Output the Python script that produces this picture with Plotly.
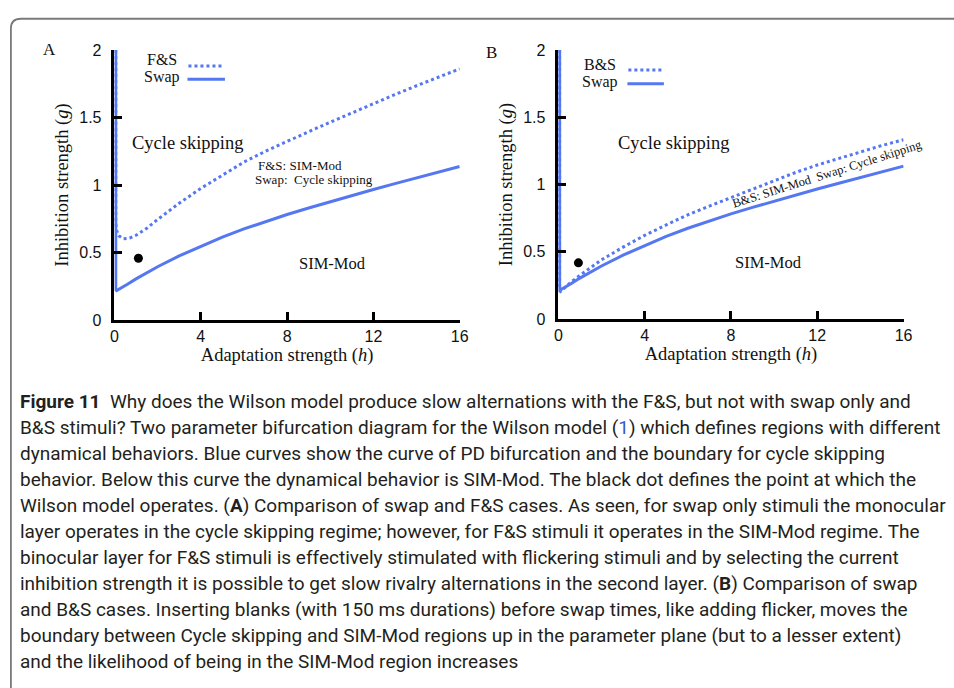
import plotly.graph_objects as go

# ---- data -------------------------------------------------------------
# Swap boundary (same curve in both panels): adaptation h vs inhibition g
h_swap = [0.06, 0.06, 0.1, 0.3, 0.6, 1, 1.5, 2, 3, 4, 5, 6, 7, 8, 9, 10, 11, 12, 13, 14, 15, 16]
g_swap = [2.0, 0.225, 0.218, 0.235, 0.265, 0.305, 0.35, 0.395, 0.475, 0.548, 0.615, 0.675, 0.73, 0.782,
          0.83, 0.877, 0.922, 0.967, 1.01, 1.053, 1.095, 1.137]

# F&S boundary (panel A)
h_fs = [0.06, 0.06, 0.1, 0.2, 0.4, 0.7, 1, 1.5, 2, 3, 4, 5, 6, 7, 8, 9, 10, 11, 12, 13, 14, 15, 16]
g_fs = [2.0, 0.72, 0.665, 0.625, 0.602, 0.607, 0.628, 0.68, 0.745, 0.865, 0.975, 1.075, 1.17, 1.25,
        1.325, 1.395, 1.465, 1.535, 1.60, 1.67, 1.735, 1.80, 1.86]

# B&S boundary (panel B)
h_bs = [0.06, 0.06, 0.1, 0.3, 0.6, 1, 1.5, 2, 3, 4, 5, 6, 7, 8, 9, 10, 11, 12, 13, 14, 15, 16]
g_bs = [2.0, 0.21, 0.205, 0.235, 0.277, 0.325, 0.38, 0.44, 0.535, 0.622, 0.70, 0.775, 0.84, 0.902,
        0.965, 1.03, 1.09, 1.145, 1.195, 1.242, 1.29, 1.333]

# operating points (black dots)
dot_a_h, dot_a_g = [1.11], [0.458]
dot_b_h, dot_b_g = [0.93], [0.418]

x_ticks = [0, 4, 8, 12, 16]
y_ticks = [0, 0.5, 1, 1.5, 2]
y_tick_text = ["0", "0.5", "1", "1.5", "2"]

caption_lines = [
    "<b>Figure 11</b>  Why does the Wilson model produce slow alternations with the F&S, but not with swap only and",
    "B&S stimuli? Two parameter bifurcation diagram for the Wilson model (<span style='color:#2f5fc4'>1</span>) which defines regions with different",
    "dynamical behaviors. Blue curves show the curve of PD bifurcation and the boundary for cycle skipping",
    "behavior. Below this curve the dynamical behavior is SIM-Mod. The black dot defines the point at which the",
    "Wilson model operates. (<b>A</b>) Comparison of swap and F&S cases. As seen, for swap only stimuli the monocular",
    "layer operates in the cycle skipping regime; however, for F&S stimuli it operates in the SIM-Mod regime. The",
    "binocular layer for F&S stimuli is effectively stimulated with flickering stimuli and by selecting the current",
    "inhibition strength it is possible to get slow rivalry alternations in the second layer. (<b>B</b>) Comparison of swap",
    "and B&S cases. Inserting blanks (with 150 ms durations) before swap times, like adding flicker, moves the",
    "boundary between Cycle skipping and SIM-Mod regions up in the parameter plane (but to a lesser extent)",
    "and the likelihood of being in the SIM-Mod region increases",
]

# ---- styling ----------------------------------------------------------
W, H = 954, 688
BLUE = "#5577f0"
SERIF = "Liberation Serif, Times New Roman, serif"
SANS = "Liberation Sans, Arial, sans-serif"
CAPTION_FONT = "Roboto, Lato, Liberation Sans, sans-serif"
INK = "#111111"


def px(x):
    return x / W


def py(y):
    return 1 - y / H


fig = go.Figure()

# panel A
fig.add_trace(go.Scatter(x=h_fs, y=g_fs, mode="lines", line=dict(color=BLUE, width=3, dash="dot"),
                         xaxis="x", yaxis="y", showlegend=False))
fig.add_trace(go.Scatter(x=h_swap, y=g_swap, mode="lines", line=dict(color=BLUE, width=3),
                         xaxis="x", yaxis="y", showlegend=False))
fig.add_trace(go.Scatter(x=dot_a_h, y=dot_a_g, mode="markers", marker=dict(color="black", size=9),
                         xaxis="x", yaxis="y", showlegend=False))

# panel B
fig.add_trace(go.Scatter(x=h_bs, y=g_bs, mode="lines", line=dict(color=BLUE, width=3, dash="dot"),
                         xaxis="x2", yaxis="y2", showlegend=False))
fig.add_trace(go.Scatter(x=h_swap, y=g_swap, mode="lines", line=dict(color=BLUE, width=3),
                         xaxis="x2", yaxis="y2", showlegend=False))
fig.add_trace(go.Scatter(x=dot_b_h, y=dot_b_g, mode="markers", marker=dict(color="black", size=9),
                         xaxis="x2", yaxis="y2", showlegend=False))

axis_common = dict(showline=True, linecolor="black", linewidth=2.5, ticks="inside", ticklen=8,
                   tickwidth=2.5, tickcolor="black", showgrid=False, zeroline=False,
                   tickfont=dict(family=SANS, size=16, color=INK), mirror=False, fixedrange=True)

xt = dict(text="Adaptation strength (<i>h</i>)", font=dict(family=SERIF, size=18.5, color=INK), standoff=2)
yt = dict(text="Inhibition strength (<i>g</i>)", font=dict(family=SERIF, size=18.5, color=INK), standoff=6)

fig.update_layout(
    width=W, height=H, margin=dict(l=0, r=0, t=0, b=0),
    paper_bgcolor="white", plot_bgcolor="white",
    xaxis=dict(domain=[px(112), px(462)], range=[0, 16], tickvals=x_ticks, anchor="y", title=xt, **axis_common),
    yaxis=dict(domain=[py(320), py(43)], range=[0, 2], tickvals=y_ticks, ticktext=y_tick_text, anchor="x",
               title=yt, ticklabelstandoff=7, **axis_common),
    xaxis2=dict(domain=[px(562), px(912)], range=[0, 16], tickvals=x_ticks, anchor="y2", title=xt, **axis_common),
    yaxis2=dict(domain=[py(319), py(43)], range=[0, 2], tickvals=y_ticks, ticktext=y_tick_text, anchor="x2",
                title=yt, ticklabelstandoff=7, **axis_common),
)

ann = []


def text_px(x, y, s, size, family=SERIF, xanchor="center", color=INK):
    ann.append(dict(x=px(x), y=py(y), xref="paper", yref="paper", text=s, showarrow=False,
                    xanchor=xanchor, yanchor="middle", font=dict(family=family, size=size, color=color)))


def text_data(ax, x, y, s, size, angle=0):
    ann.append(dict(x=x, y=y, xref=ax[0], yref=ax[1], text=s, showarrow=False, textangle=angle,
                    xanchor="center", yanchor="middle", font=dict(family=SERIF, size=size, color=INK)))


# panel letters
text_px(46, 43, "A", 17)
text_px(494, 46, "B", 17)

# region labels, panel A
text_data(("x", "y"), 3.42, 1.31, "Cycle skipping", 18.5)
text_data(("x", "y"), 8.6, 1.145, "F&S: SIM-Mod", 13)
text_data(("x", "y"), 9.25, 1.04, "Swap:  Cycle skipping", 13)
text_data(("x", "y"), 10.1, 0.42, "SIM-Mod", 16.5)

# region labels, panel B
text_data(("x2", "y2"), 5.37, 1.31, "Cycle skipping", 18.5)
text_data(("x2", "y2"), 9.76, 0.42, "SIM-Mod", 16.5)
text_data(("x2", "y2"), 12.45, 1.08, "B&S: SIM-Mod  Swap: Cycle skipping", 12.5, angle=-17.6)

# key entries (text left, line sample right)
text_px(177, 53, "F&S", 16, xanchor="right")
text_px(180, 71, "Swap", 16, xanchor="right")
text_px(622, 58, "B&S", 16, xanchor="right")
text_px(625, 76, "Swap", 16, xanchor="right")

shapes = [
    dict(type="line", xref="paper", yref="paper", x0=px(187), x1=px(223), y0=py(59.5), y1=py(59.5),
         line=dict(color=BLUE, width=3, dash="dot")),
    dict(type="line", xref="paper", yref="paper", x0=px(186), x1=px(224), y0=py(73), y1=py(73),
         line=dict(color=BLUE, width=3)),
    dict(type="line", xref="paper", yref="paper", x0=px(633), x1=px(669), y0=py(63.5), y1=py(63.5),
         line=dict(color=BLUE, width=3, dash="dot")),
    dict(type="line", xref="paper", yref="paper", x0=px(632), x1=px(669), y0=py(77.7), y1=py(77.7),
         line=dict(color=BLUE, width=3)),
]

# rounded frame around the figure (continues past the page edges)
x0, yt0, r = 7, 11, 10
frame = (f"M {px(x0)},{py(H + 20)} L {px(x0)},{py(yt0 + r)} "
         f"Q {px(x0)},{py(yt0)} {px(x0 + r)},{py(yt0)} L {px(W + 20)},{py(yt0)}")
shapes.append(dict(type="path", xref="paper", yref="paper", path=frame,
                   line=dict(color="#7a7a7a", width=1.8)))

# caption
for i, line in enumerate(caption_lines):
    text_px(14, 403 + i * 26.7, line, 19, family=CAPTION_FONT, xanchor="left", color="#231f20")

fig.update_layout(annotations=ann, shapes=shapes)
fig.write_html("out.html")
